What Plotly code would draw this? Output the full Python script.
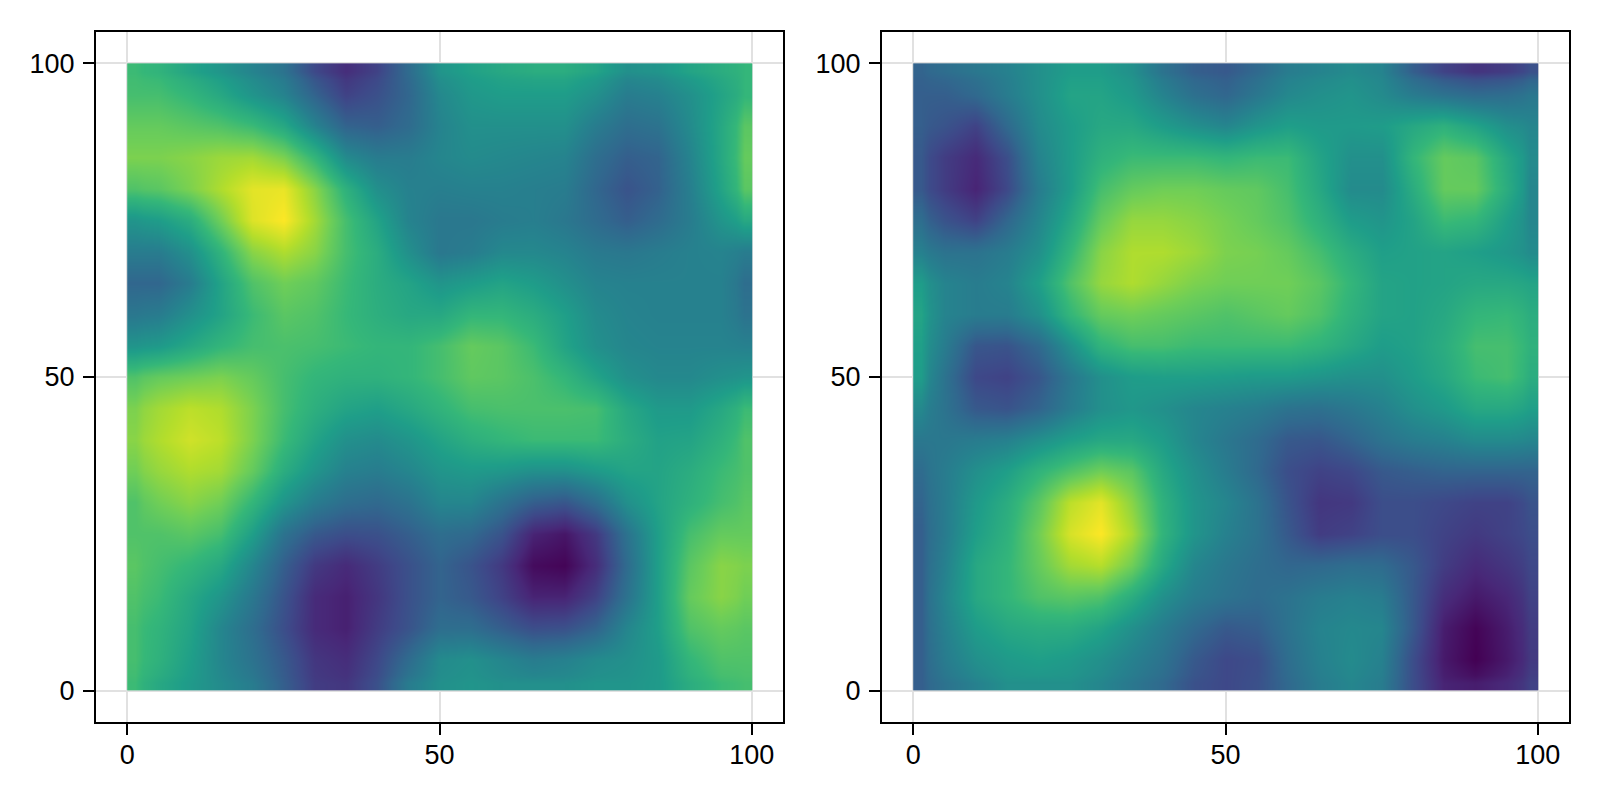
import plotly.graph_objects as go
from plotly.subplots import make_subplots

# grid every 5 units
grid_x = list(range(0, 105, 5))
grid_y = list(range(100, -5, -5))
tick_vals = [0, 50, 100]

# rows run from y=100 down to y=0
left_z = [
    [.68,.65,.58,.52,.45,.38,.22,.13,.20,.35,.52,.57,.60,.62,.62,.58,.50,.52,.58,.62,.66],
    [.70,.70,.66,.60,.52,.45,.32,.20,.25,.33,.47,.53,.55,.55,.55,.50,.42,.44,.50,.58,.66],
    [.76,.76,.74,.72,.68,.60,.45,.32,.30,.35,.45,.50,.50,.50,.50,.42,.36,.38,.48,.60,.74],
    [.80,.80,.82,.85,.86,.80,.66,.48,.42,.42,.46,.48,.47,.46,.45,.36,.30,.32,.45,.60,.76],
    [.72,.74,.80,.88,.96,.97,.82,.64,.50,.44,.43,.44,.44,.43,.42,.33,.26,.31,.43,.58,.74],
    [.52,.55,.62,.78,.95,1.0,.86,.70,.58,.45,.40,.40,.42,.43,.40,.35,.30,.35,.42,.52,.60],
    [.42,.42,.50,.65,.82,.88,.82,.70,.62,.50,.40,.42,.47,.47,.45,.41,.40,.42,.44,.45,.42],
    [.33,.33,.42,.58,.72,.78,.75,.68,.62,.58,.52,.55,.58,.55,.50,.45,.44,.44,.44,.44,.36],
    [.40,.42,.50,.58,.68,.74,.72,.67,.63,.60,.60,.66,.66,.62,.56,.48,.45,.44,.44,.44,.38],
    [.52,.54,.60,.66,.70,.71,.70,.68,.66,.66,.70,.76,.74,.68,.58,.50,.46,.45,.45,.45,.44],
    [.72,.76,.78,.80,.76,.70,.66,.64,.64,.66,.70,.75,.74,.71,.66,.58,.50,.47,.47,.50,.52],
    [.80,.86,.90,.88,.80,.70,.63,.58,.56,.60,.65,.70,.71,.71,.71,.70,.60,.54,.54,.60,.68],
    [.82,.88,.93,.90,.80,.68,.58,.50,.48,.52,.58,.63,.66,.68,.68,.68,.62,.57,.58,.64,.72],
    [.78,.84,.88,.86,.76,.62,.52,.44,.42,.46,.52,.54,.53,.50,.50,.54,.58,.58,.62,.68,.72],
    [.72,.78,.82,.78,.66,.52,.42,.36,.34,.38,.46,.46,.38,.30,.27,.36,.50,.58,.64,.70,.74],
    [.72,.72,.74,.70,.56,.38,.28,.24,.25,.30,.36,.34,.26,.10,.06,.17,.38,.56,.70,.76,.76],
    [.74,.70,.66,.60,.46,.30,.17,.12,.18,.25,.32,.26,.17,.03,.01,.13,.35,.56,.74,.82,.80],
    [.72,.68,.60,.52,.40,.26,.12,.09,.16,.25,.32,.28,.20,.10,.10,.20,.38,.56,.76,.82,.78],
    [.70,.65,.58,.46,.36,.24,.12,.09,.18,.26,.36,.36,.30,.24,.25,.32,.46,.56,.72,.76,.74],
    [.70,.64,.56,.46,.38,.28,.16,.13,.22,.35,.48,.50,.46,.42,.44,.48,.50,.54,.66,.72,.72],
    [.68,.60,.54,.48,.42,.30,.18,.16,.25,.42,.50,.52,.50,.50,.50,.52,.52,.54,.62,.68,.70],
]

right_z = [
    [.32,.36,.40,.44,.50,.55,.55,.50,.38,.30,.28,.34,.42,.45,.48,.45,.30,.20,.15,.18,.25],
    [.30,.30,.34,.42,.50,.58,.58,.54,.45,.37,.33,.40,.47,.50,.52,.48,.42,.38,.35,.36,.40],
    [.30,.26,.20,.34,.48,.55,.60,.60,.55,.50,.46,.52,.56,.54,.54,.55,.60,.64,.58,.50,.46],
    [.28,.18,.12,.24,.45,.55,.64,.68,.68,.68,.66,.68,.68,.58,.50,.50,.66,.76,.74,.60,.48],
    [.28,.18,.10,.22,.42,.55,.70,.76,.78,.78,.76,.75,.70,.60,.48,.48,.62,.76,.76,.62,.46],
    [.36,.26,.20,.33,.46,.60,.76,.84,.84,.82,.79,.76,.72,.64,.55,.52,.58,.68,.66,.56,.46],
    [.44,.38,.38,.42,.50,.66,.82,.88,.88,.85,.80,.79,.76,.70,.62,.56,.57,.58,.56,.53,.48],
    [.55,.45,.42,.45,.56,.72,.84,.88,.84,.80,.78,.78,.78,.74,.66,.58,.57,.58,.60,.60,.58],
    [.58,.45,.42,.42,.50,.66,.76,.78,.76,.74,.72,.74,.76,.72,.64,.58,.57,.60,.66,.67,.62],
    [.56,.42,.27,.26,.34,.50,.65,.70,.70,.68,.68,.68,.68,.65,.60,.55,.57,.62,.70,.70,.64],
    [.55,.38,.22,.20,.27,.40,.50,.55,.56,.56,.55,.54,.54,.52,.50,.50,.55,.60,.68,.70,.62],
    [.47,.38,.28,.26,.32,.42,.50,.53,.50,.46,.44,.42,.38,.37,.40,.44,.50,.54,.60,.60,.56],
    [.40,.40,.42,.44,.50,.56,.60,.60,.55,.46,.40,.35,.28,.27,.32,.38,.42,.44,.48,.48,.46],
    [.35,.42,.50,.56,.65,.72,.78,.74,.60,.50,.42,.34,.24,.20,.22,.28,.30,.32,.32,.32,.32],
    [.32,.42,.54,.62,.74,.90,.96,.82,.64,.52,.46,.38,.26,.16,.17,.24,.24,.22,.20,.20,.26],
    [.30,.42,.56,.64,.78,.94,1.0,.87,.65,.52,.44,.38,.28,.18,.20,.24,.24,.20,.17,.20,.24],
    [.30,.44,.60,.66,.76,.86,.89,.78,.60,.46,.40,.36,.33,.34,.36,.35,.28,.18,.12,.16,.22],
    [.30,.46,.60,.66,.72,.74,.72,.62,.50,.42,.38,.35,.38,.42,.44,.42,.28,.13,.07,.11,.20],
    [.30,.44,.55,.60,.62,.62,.58,.50,.42,.34,.28,.30,.38,.45,.47,.46,.28,.08,.01,.08,.18],
    [.30,.42,.50,.54,.56,.54,.50,.44,.38,.28,.22,.24,.36,.44,.48,.44,.24,.07,.00,.07,.17],
    [.30,.38,.44,.50,.50,.50,.46,.40,.34,.25,.22,.25,.34,.42,.46,.42,.24,.10,.08,.12,.20],
]


def cell_edges(vals):
    # stop the image at the first and last grid value instead of half a cell past them
    mids = [(a + b) / 2 for a, b in zip(vals[:-1], vals[1:])]
    return [vals[0]] + mids + [vals[-1]]


fig = make_subplots(rows=1, cols=2)

for col, z in enumerate([left_z, right_z], start=1):
    fig.add_trace(go.Heatmap(x=cell_edges(grid_x), y=cell_edges(grid_y), z=z,
                             colorscale='Viridis', zmin=0, zmax=1,
                             zsmooth='best', showscale=False, hoverinfo='skip'),
                  row=1, col=col)

axis_style = dict(range=[-5, 105], tickvals=tick_vals, ticks='outside', ticklen=11,
                  tickwidth=2, tickcolor='black', showline=True, mirror=True,
                  linecolor='black', linewidth=2, showgrid=True,
                  gridcolor='rgb(225,225,225)', gridwidth=2, zeroline=False,
                  tickfont=dict(family='Liberation Sans', size=27, color='black'))

fig.update_xaxes(ticklabelstandoff=-3, **axis_style)
fig.update_yaxes(ticklabelstandoff=3, **axis_style)
fig.update_layout(
    width=1600, height=800, margin=dict(l=0, r=0, t=0, b=0),
    paper_bgcolor='white', plot_bgcolor='white', showlegend=False,
    xaxis=dict(domain=[96 / 1600, 783 / 1600]),
    xaxis2=dict(domain=[882 / 1600, 1569 / 1600]),
    yaxis=dict(domain=[1 - 722 / 800, 1 - 32 / 800]),
    yaxis2=dict(domain=[1 - 722 / 800, 1 - 32 / 800]),
)

# page default margin would push the figure off the window
fig.write_html("out.html", config={'displayModeBar': False},
               post_script="document.body.style.margin='0';document.documentElement.style.overflow='hidden';")
